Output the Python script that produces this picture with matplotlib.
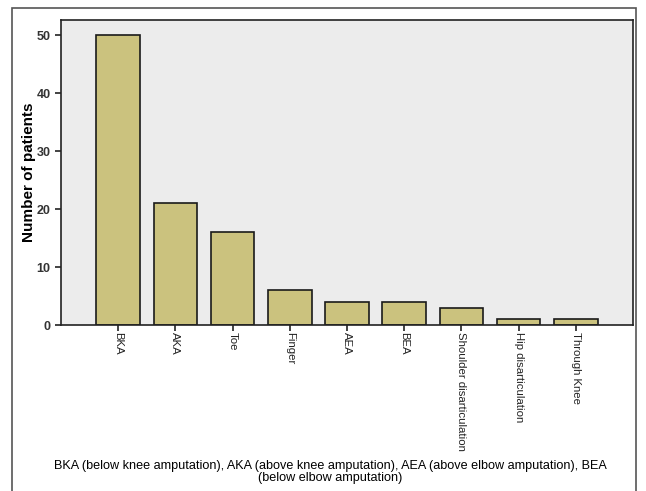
import matplotlib.pyplot as plt
from matplotlib.patches import Rectangle

plt.rcParams['font.family'] = ['Liberation Sans', 'DejaVu Sans']

categories = ["BKA", "AKA", "Toe", "Finger", "AEA", "BEA",
              "Shoulder disarticulation", "Hip disarticulation", "Through Knee"]
patients = [50, 21, 16, 6, 4, 4, 3, 1, 1]
yticks = [0, 10, 20, 30, 40, 50]
caption = ("BKA (below knee amputation), AKA (above knee amputation), AEA (above elbow amputation), BEA\n"
           "(below elbow amputation)")

fig = plt.figure(figsize=(6.46, 4.91), dpi=100)
ax = fig.add_axes([61/646, 1 - 325/491, (633 - 61)/646, (325 - 20)/491])
ax.set_facecolor("#ECECEC")

x = list(range(len(categories)))
ax.bar(x, patients, width=0.76, color="#CBC27E", edgecolor="#1a1a1a", linewidth=1.2, zorder=2)

ax.set_xlim(-1, 9)
ax.set_ylim(0, 52.6)
ax.set_yticks(yticks)
ax.set_xticks(x)
ax.set_xticklabels(categories, rotation=270, fontsize=8.2, va="top", ha="center")
ax.tick_params(axis="y", labelsize=9, length=4, width=1.2, colors="#222222", labelcolor="#333333")
for t in ax.get_yticklabels():
    t.set_fontweight("bold")
ax.tick_params(axis="x", length=4, width=1.2, pad=1, colors="#222222")
for s in ax.spines.values():
    s.set_color("#222222")
    s.set_linewidth(1.2)
ax.set_ylabel("Number of patients", fontsize=11, fontweight="bold")
ax.yaxis.set_label_coords((36 - 61)/572, 0.5)

fig.text(330/646, 1 - 472/491, caption, ha="center", va="center", fontsize=9.1,
         multialignment="center", linespacing=1.0)

border = Rectangle((12/646, -0.1), (636 - 12)/646, 1.1 - 8/491, transform=fig.transFigure,
                   fill=False, edgecolor="#555555", linewidth=1.2)
fig.add_artist(border)

fig.savefig("out.png", dpi=100)
